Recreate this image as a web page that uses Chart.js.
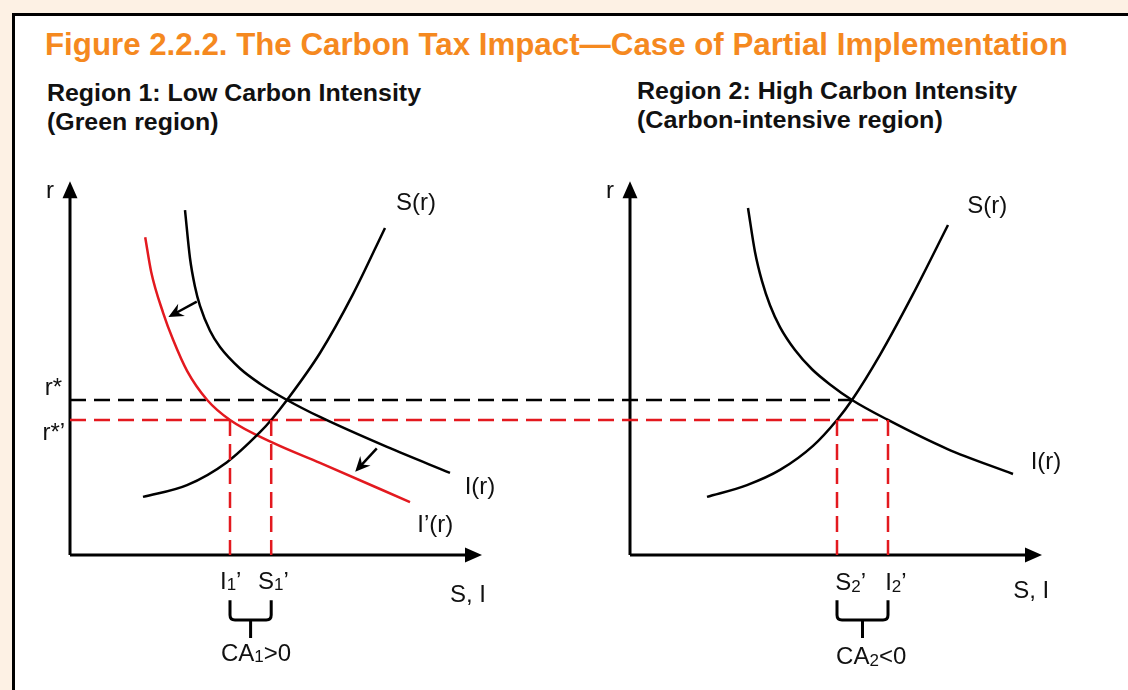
<!DOCTYPE html>
<html>
<head>
<meta charset="utf-8">
<script src="https://cdn.jsdelivr.net/npm/chart.js@4/dist/chart.umd.min.js"></script>
<style>
  body { margin: 0; width: 1128px; height: 690px; overflow: hidden; position: relative; background: #fdf1e4; font-family: "Liberation Sans", Arial, sans-serif; }
  #frame { position: absolute; left: 12px; top: 13px; width: 1200px; height: 720px; background: #fff; border-top: 3px solid #000; border-left: 3px solid #000; }
  .txt { position: absolute; white-space: nowrap; transform-origin: 0 0; font-weight: bold; }
  #title { left: 45px; top: 28px; font-size: 32px; line-height: 32px; color: #f5891f; }
  .sub { font-size: 23px; line-height: 29px; color: #111; }
  #diagram { position: absolute; left: 0; top: 0; }
</style>
</head>
<body>
<div id="frame"></div>
<div id="title" class="txt" data-w="1023">Figure 2.2.2. The Carbon Tax Impact—Case of Partial Implementation</div>
<div class="txt sub" style="left:47px;top:79px" data-w="374">Region 1: Low Carbon Intensity</div>
<div class="txt sub" style="left:47px;top:108px" data-w="171">(Green region)</div>
<div class="txt sub" style="left:637px;top:77px" data-w="380">Region 2: High Carbon Intensity</div>
<div class="txt sub" style="left:637px;top:106px" data-w="306">(Carbon-intensive region)</div>
<canvas id="diagram" width="1128" height="690"></canvas>
<script>
// interest rates
const rStar = 4.19;
const rStarTax = 3.65;

// Region 1 (green): saving S(r), investment I(r), investment after tax I'(r)
const r1SavingX = [1.825, 2.925, 3.925, 4.75, 5.03, 5.425, 6.25, 7.075, 7.875];
const r1SavingY = [1.57, 1.89, 2.51, 3.32, 3.65, 4.19, 5.46, 7.05, 8.84];
const r1InvestX = [2.875, 3.0, 3.125, 3.25, 3.5, 3.75, 4.25, 4.75, 5.425, 6.25, 7.925, 9.5];
const r1InvestY = [9.32, 8.02, 7.25, 6.73, 6.06, 5.62, 5.04, 4.63, 4.19, 3.73, 2.92, 2.22];
const r1InvestTaxX = [1.88, 2.03, 2.33, 2.58, 2.93, 3.43, 4.0, 5.08, 6.25, 8.5];
const r1InvestTaxY = [8.59, 7.65, 6.54, 5.81, 4.97, 4.19, 3.65, 3.03, 2.49, 1.43];

// Region 2 (carbon-intensive): saving S(r), investment I(r)
const r2SavingX = [1.925, 2.925, 3.75, 4.575, 5.175, 5.55, 6.25, 7.075, 7.95];
const r2SavingY = [1.57, 1.89, 2.30, 2.95, 3.65, 4.19, 5.41, 7.05, 8.92];
const r2InvestX = [2.95, 3.125, 3.3, 3.5, 3.75, 4.125, 4.55, 5.0, 5.55, 6.45, 7.925, 9.575];
const r2InvestY = [9.38, 8.19, 7.40, 6.75, 6.16, 5.54, 5.02, 4.61, 4.19, 3.65, 2.87, 2.19];

// quantities at the equilibria
const eq2X = 5.55;
const i1Tax = 4.0, s1Tax = 5.03;
const s2Tax = 5.175, i2Tax = 6.45;

// shift arrows of I(r) -> I'(r): [fromX, fromY, toX, toY]
const shiftArrows = [[3.17, 6.85, 2.46, 6.43], [7.67, 2.88, 7.13, 2.25]];

const red = '#e3191f';
const ink = '#111';

function pts(xs, ys) {
  return xs.map((x, i) => ({ x: x, y: ys[i] }));
}

function curve(axis, xs, ys, color) {
  return {
    xAxisID: axis, data: pts(xs, ys), showLine: true, borderColor: color,
    borderWidth: 2.5, pointRadius: 0, cubicInterpolationMode: 'monotone'
  };
}

function guide(axis, x, top) {
  return {
    xAxisID: axis, data: [{ x: x, y: top }, { x: x, y: 0 }], showLine: true,
    borderColor: red, borderWidth: 2.5, borderDash: [16, 8], pointRadius: 0
  };
}

// text labels: [axis, pieces, x, y, align]; pieces: [text, isSub]
const labels = [
  ['xL', [['r']], -0.5, 9.84, 'center'],
  ['xL', [['S(r)']], 8.65, 9.51, 'center'],
  ['xL', [['I(r)']], 10.25, 1.84, 'center'],
  ['xL', [['I’(r)']], 9.13, 0.81, 'center'],
  ['xL', [['r*']], -0.2, 4.49, 'right'],
  ['xL', [['r*’']], -0.12, 3.30, 'right'],
  ['xL', [['I'], ['1', 1], ['’']], 3.75, -0.73, 'left'],
  ['xL', [['S'], ['1', 1], ['’']], 4.7, -0.73, 'left'],
  ['xL', [['S, I']], 9.5, -1.08, 'left'],
  ['xL', [['CA'], ['1', 1], ['>0']], 4.65, -2.68, 'center'],
  ['xR', [['r']], -0.5, 9.84, 'center'],
  ['xR', [['S(r)']], 8.93, 9.41, 'center'],
  ['xR', [['I(r)']], 10.4, 2.51, 'center'],
  ['xR', [['S'], ['2', 1], ['’']], 5.13, -0.78, 'left'],
  ['xR', [['I'], ['2', 1], ['’']], 6.38, -0.78, 'left'],
  ['xR', [['S, I']], 9.58, -0.97, 'left'],
  ['xR', [['CA'], ['2', 1], ['<0']], 6.03, -2.78, 'center']
];

function drawRich(ctx, pieces, px, py, align) {
  const big = '24px "Liberation Sans", Arial, sans-serif';
  const small = '17px "Liberation Sans", Arial, sans-serif';
  let w = 0;
  pieces.forEach(p => { ctx.font = p[1] ? small : big; w += ctx.measureText(p[0]).width; });
  let x = align === 'center' ? px - w / 2 : align === 'right' ? px - w : px;
  ctx.textAlign = 'left';
  ctx.textBaseline = 'middle';
  pieces.forEach(p => {
    ctx.font = p[1] ? small : big;
    ctx.fillText(p[0], x, p[1] ? py + 3 : py);
    x += ctx.measureText(p[0]).width;
  });
}

function drawAxes(ctx, xs, ys) {
  const x0 = xs.getPixelForValue(0), y0 = ys.getPixelForValue(0);
  const xEnd = xs.getPixelForValue(10.3), yEnd = ys.getPixelForValue(10.1);
  ctx.save();
  ctx.strokeStyle = '#000';
  ctx.fillStyle = '#000';
  ctx.lineWidth = 3;
  ctx.beginPath();
  ctx.moveTo(x0, y0); ctx.lineTo(x0, yEnd + 14);
  ctx.moveTo(x0, y0); ctx.lineTo(xEnd - 14, y0);
  ctx.stroke();
  ctx.beginPath();
  ctx.moveTo(x0, yEnd); ctx.lineTo(x0 - 7.5, yEnd + 17); ctx.lineTo(x0 + 7.5, yEnd + 17); ctx.closePath();
  ctx.moveTo(xEnd, y0); ctx.lineTo(xEnd - 17, y0 - 7.5); ctx.lineTo(xEnd - 17, y0 + 7.5); ctx.closePath();
  ctx.fill();
  ctx.restore();
}

function drawBrace(ctx, xs, ys, a, b) {
  const xa = xs.getPixelForValue(a), xb = xs.getPixelForValue(b);
  const top = ys.getPixelForValue(-1.22), mid = ys.getPixelForValue(-1.76), bot = ys.getPixelForValue(-2.24);
  const xc = (xa + xb) / 2;
  ctx.save();
  ctx.strokeStyle = '#000';
  ctx.lineWidth = 3;
  ctx.beginPath();
  ctx.moveTo(xa, top);
  ctx.lineTo(xa, mid - 5);
  ctx.quadraticCurveTo(xa, mid, xa + 5, mid);
  ctx.lineTo(xb - 5, mid);
  ctx.quadraticCurveTo(xb, mid, xb, mid - 5);
  ctx.lineTo(xb, top);
  ctx.moveTo(xc, mid);
  ctx.lineTo(xc, bot);
  ctx.stroke();
  ctx.restore();
}

const diagramPlugin = {
  id: 'diagram',
  beforeDatasetsDraw(chart) {
    const ctx = chart.ctx;
    const xL = chart.scales.xL, xR = chart.scales.xR, y = chart.scales.y;
    drawAxes(ctx, xL, y);
    drawAxes(ctx, xR, y);
    ctx.save();
    ctx.lineWidth = 2.5;
    ctx.setLineDash([16, 8]);
    ctx.strokeStyle = '#000';
    ctx.beginPath();
    ctx.moveTo(xL.getPixelForValue(0), y.getPixelForValue(rStar));
    ctx.lineTo(xR.getPixelForValue(eq2X), y.getPixelForValue(rStar));
    ctx.stroke();
    ctx.strokeStyle = red;
    ctx.beginPath();
    ctx.moveTo(xL.getPixelForValue(0), y.getPixelForValue(rStarTax));
    ctx.lineTo(xR.getPixelForValue(i2Tax), y.getPixelForValue(rStarTax));
    ctx.stroke();
    ctx.restore();
  },
  afterDatasetsDraw(chart) {
    const ctx = chart.ctx;
    const xL = chart.scales.xL, xR = chart.scales.xR, y = chart.scales.y;
    ctx.save();
    ctx.strokeStyle = '#000';
    ctx.fillStyle = '#000';
    ctx.lineWidth = 2.5;
    shiftArrows.forEach(a => {
      const x1 = xL.getPixelForValue(a[0]), y1 = y.getPixelForValue(a[1]);
      const x2 = xL.getPixelForValue(a[2]), y2 = y.getPixelForValue(a[3]);
      const ang = Math.atan2(y2 - y1, x2 - x1);
      const c = Math.cos(ang), s = Math.sin(ang);
      ctx.beginPath();
      ctx.moveTo(x1, y1);
      ctx.lineTo(x2 - 8 * c, y2 - 8 * s);
      ctx.stroke();
      ctx.beginPath();
      ctx.moveTo(x2, y2);
      ctx.lineTo(x2 - 15 * c + 7 * s, y2 - 15 * s - 7 * c);
      ctx.lineTo(x2 - 10 * c, y2 - 10 * s);
      ctx.lineTo(x2 - 15 * c - 7 * s, y2 - 15 * s + 7 * c);
      ctx.closePath();
      ctx.fill();
    });
    ctx.restore();
    drawBrace(ctx, xL, y, i1Tax, s1Tax);
    drawBrace(ctx, xR, y, s2Tax, i2Tax);
    ctx.save();
    ctx.fillStyle = ink;
    labels.forEach(l => {
      const xs = chart.scales[l[0]];
      drawRich(ctx, l[1], xs.getPixelForValue(l[2]), y.getPixelForValue(l[3]), l[4]);
    });
    ctx.restore();
  }
};

document.querySelectorAll('.txt').forEach(el => {
  const target = +el.dataset.w;
  el.style.transform = 'scaleX(' + (target / el.scrollWidth) + ')';
});

new Chart(document.getElementById('diagram'), {
  type: 'scatter',
  data: {
    datasets: [
      guide('xL', i1Tax, rStarTax),
      guide('xL', s1Tax, rStarTax),
      guide('xR', s2Tax, rStarTax),
      guide('xR', i2Tax, rStarTax),
      curve('xL', r1SavingX, r1SavingY, '#000'),
      curve('xL', r1InvestX, r1InvestY, '#000'),
      curve('xL', r1InvestTaxX, r1InvestTaxY, red),
      curve('xR', r2SavingX, r2SavingY, '#000'),
      curve('xR', r2InvestX, r2InvestY, '#000')
    ]
  },
  options: {
    responsive: false,
    animation: false,
    devicePixelRatio: 1,
    layout: { padding: 0 },
    plugins: { legend: { display: false }, tooltip: { enabled: false } },
    scales: {
      xL: { type: 'linear', display: false, min: -1.75, max: 26.45 },
      xR: { type: 'linear', display: false, min: -15.75, max: 12.45 },
      y: { type: 'linear', display: false, min: -3.6486, max: 15 }
    }
  },
  plugins: [diagramPlugin]
});
</script>
</body>
</html>
